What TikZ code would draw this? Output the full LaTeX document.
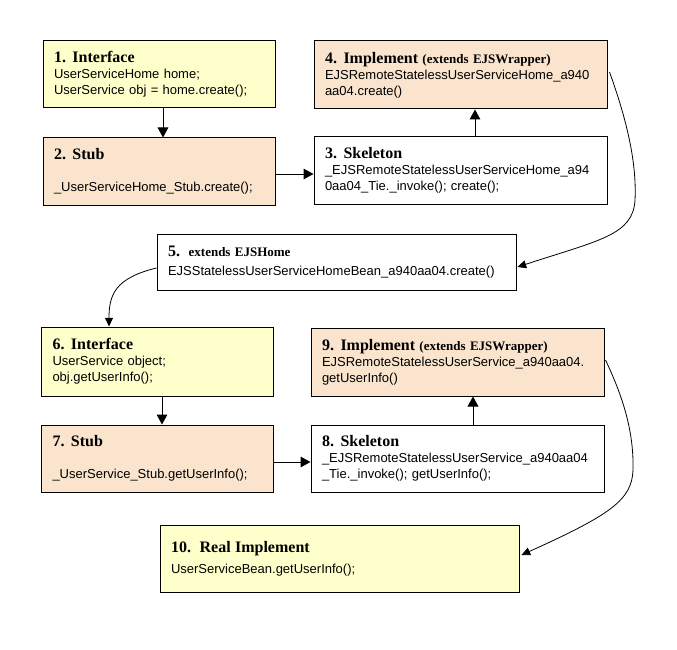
\documentclass[tikz,border=0pt]{standalone}
\usepackage{fontspec}
\setmainfont{Liberation Sans}
\newfontfamily\headfont{Liberation Serif}
\usetikzlibrary{calc,arrows.meta}

\definecolor{ifyellow}{RGB}{255,255,204}
\definecolor{stubpeach}{RGB}{250,228,205}

\newcommand{\hd}[1]{{\headfont\bfseries\fontsize{12}{12}\selectfont #1}}
\newcommand{\hdsmall}[1]{{\headfont\bfseries\fontsize{9.75}{12}\selectfont #1}}

\begin{document}
\begin{tikzpicture}[x=0.75pt,y=0.75pt,yscale=-1,xscale=1,
    box/.style={draw, line width=0.75pt, align=left, inner xsep=8.25pt, inner ysep=0pt, font=\fontsize{9.75}{12}\selectfont},
    narrowbox/.style={box, text width=157.5pt},
    widebox/.style={box, text width=203.25pt},
    longbox/.style={box, text width=252.75pt},
    arr/.style={line width=0.75pt, -{Triangle[length=7.5pt,width=8pt]}},
    curvearr/.style={line width=0.6pt, -{Triangle[length=6.5pt,width=6pt]}}]
\useasboundingbox (0,0) rectangle (677,649);
                        %Interface / Stub (home)
                        \node[narrowbox, fill=ifyellow, minimum height=50.25pt] (iface1) at (159,74.5) {\hd{1. Interface}\\UserServiceHome home;\\UserService obj = home.create();};
                        \node[narrowbox, fill=stubpeach, minimum height=50.25pt] (stub2) at (159,171.5) {\hd{2. Stub}\\[12pt]\_UserServiceHome\_Stub.create();};
                        %Skeleton / Implement (home)
                        \node[widebox, minimum height=50.25pt] (skel3) at (460.5,170.5) {\hd{3. Skeleton}\\\_EJSRemoteStatelessUserServiceHome\_a94\\0aa04\_Tie.\_invoke(); create();};
                        \node[widebox, fill=stubpeach, minimum height=51pt] (impl4) at (460.5,75) {\hd{4. Implement \hdsmall{(extends EJSWrapper)}}\\EJSRemoteStatelessUserServiceHome\_a940\\aa04.create()};
                        %Home bean
                        \node[longbox, minimum height=42pt] (home5) at (336.5,262) {\hd{5.}\ \ \hdsmall{extends EJSHome}\\[2.25pt]EJSStatelessUserServiceHomeBean\_a940aa04.create()};
                        %Interface / Stub (remote)
                        \node[narrowbox, fill=ifyellow, minimum height=51.75pt] (iface6) at (157.5,361.5) {\hd{6. Interface}\\UserService object;\\obj.getUserInfo();};
                        \node[narrowbox, fill=stubpeach, minimum height=50.25pt] (stub7) at (157.5,458.5) {\hd{7. Stub}\\[12pt]\_UserService\_Stub.getUserInfo();};
                        %Skeleton / Implement (remote)
                        \node[widebox, minimum height=50.25pt] (skel8) at (457.5,458.5) {\hd{8. Skeleton}\\\_EJSRemoteStatelessUserService\_a940aa04\\\_Tie.\_invoke(); getUserInfo();};
                        \node[widebox, fill=stubpeach, minimum height=51pt] (impl9) at (457.5,362) {\hd{9. Implement \hdsmall{(extends EJSWrapper)}}\\EJSRemoteStatelessUserService\_a940aa04.\\getUserInfo()};
                        %Real bean
                        \node[longbox, fill=ifyellow, minimum height=50.25pt] (bean10) at (339.5,558.5) {\hd{10.\ \ Real Implement}\\[3.75pt]UserServiceBean.getUserInfo();};
                        %Straight Lines
                        \draw[arr] ($(iface1.south)+(4,0)$) -- ($(stub2.north)+(4,0)$);
                        \draw[arr] ($(stub2.east)+(0,2.5)$) -- ($(skel3.west)+(0,3.5)$);
                        \draw[arr] ($(skel3.north)+(14.5,0)$) -- ($(impl4.south)+(14.5,0)$);
                        \draw[arr] ($(iface6.south)+(4.5,0)$) -- ($(stub7.north)+(4.5,0)$);
                        \draw[arr] ($(stub7.east)+(0,3.5)$) -- ($(skel8.west)+(0,3.5)$);
                        \draw[arr] ($(skel8.north)+(15.5,0)$) -- ($(impl9.south)+(15.5,0)$);
                        %Curve Lines
                        \draw[curvearr] ($(impl4.east)+(2,-3)$) .. controls (625,115) and (637,160) .. (635,200) .. controls (633,235) and (600,240) .. ($(home5.east)+(1,5)$);
                        \draw[curvearr] ($(home5.west)+(0,6)$) .. controls (115,278) and (109,295) .. ($(iface6.north)+(-48.5,0)$);
                        \draw[curvearr] ($(impl9.east)+(1,-2)$) .. controls (622,395) and (634,430) .. (633,470) .. controls (632,500) and (610,515) .. ($(bean10.east)+(2,-3.5)$);
\end{tikzpicture}
\end{document}
